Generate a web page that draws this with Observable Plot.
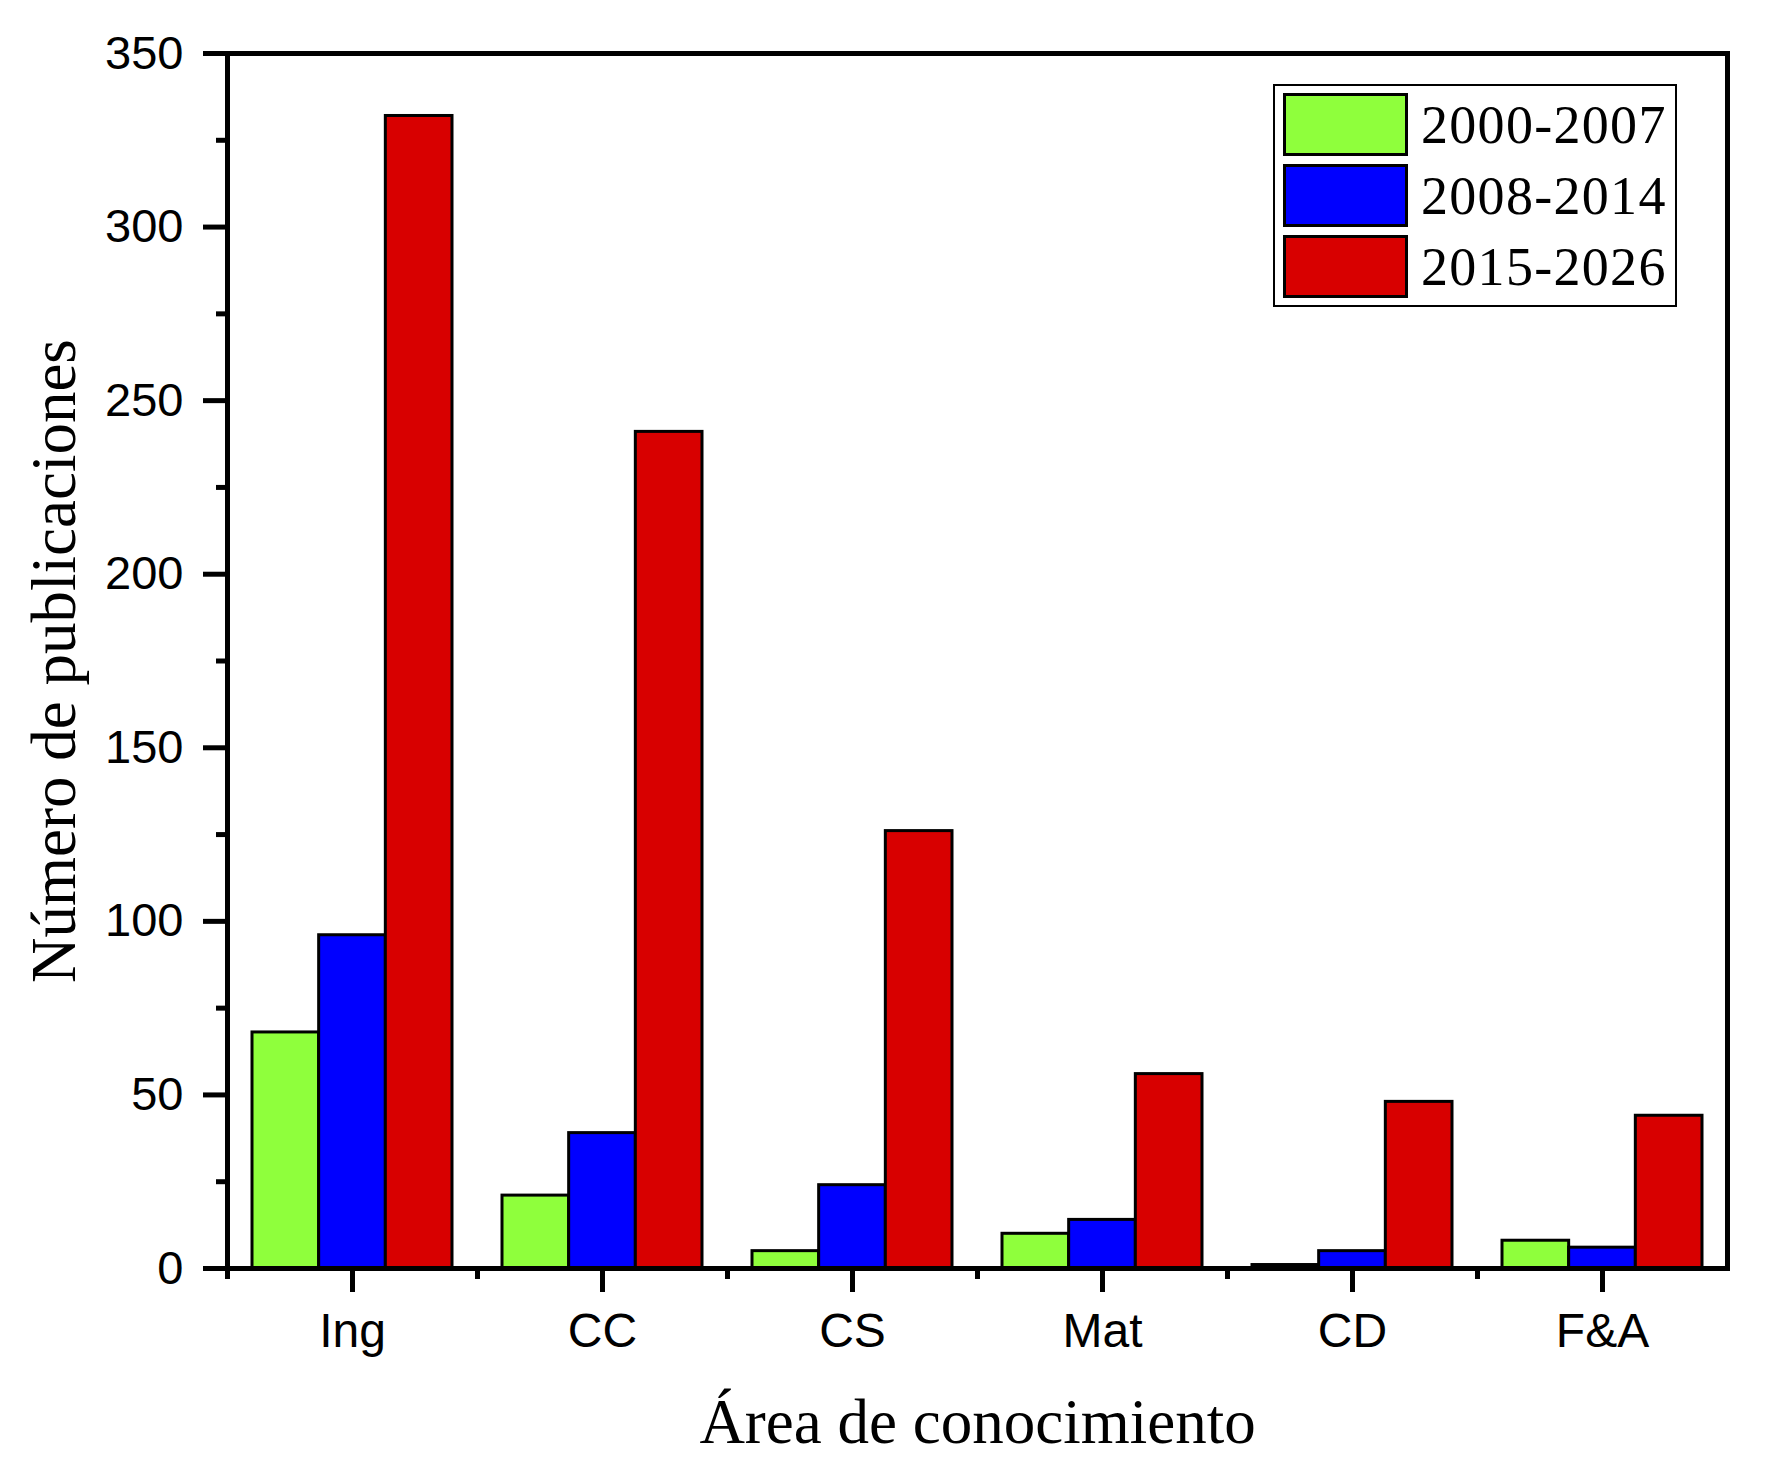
<!DOCTYPE html>
<html>
<head>
<meta charset="utf-8">
<script src="https://cdn.jsdelivr.net/npm/d3@7"></script>
<script src="https://cdn.jsdelivr.net/npm/@observablehq/plot@0.6"></script>
<style>
  html, body { margin: 0; padding: 0; background: #fff; }
  #wrap { position: relative; width: 1767px; height: 1475px; }
  #legend {
    position: absolute; left: 1273px; top: 84px; width: 400px; height: 219px;
    border: 2.5px solid #000; background: #fff; box-sizing: content-box;
    font-family: "Liberation Serif", "Times New Roman", serif; font-size: 54px; color: #000;
  }
  .item { position: absolute; left: 8px; height: 63px; width: 390px; }
  .sw { position: absolute; left: 0; top: 0; width: 119px; height: 57px; border: 3px solid #000; }
  .lab { position: absolute; left: 138px; top: 50%; transform: translateY(-50%); line-height: 1; white-space: nowrap; letter-spacing: 1.3px; }
</style>
</head>
<body>
<div id="wrap"></div>
<script>
// ---- data ----
const categories = ["Ing", "CC", "CS", "Mat", "CD", "F&A"];
const seriesNames = ["2000-2007", "2008-2014", "2015-2026"];
const values2000_2007 = [68, 21, 5, 10, 1, 8];
const values2008_2014 = [96, 39, 24, 14, 5, 6];
const values2015_2026 = [332, 241, 126, 56, 48, 44];
const seriesColors = ["#8FFF3C", "#0000FF", "#D80000"];
const yMajorTicks = [0, 50, 100, 150, 200, 250, 300, 350];
const yMinorTicks = [25, 75, 125, 175, 225, 275, 325];
const xTitle = "Área de conocimiento";
const yTitle = "Número de publicaciones";

const seriesValues = [values2000_2007, values2008_2014, values2015_2026];
const data = [];
seriesNames.forEach((s, si) => categories.forEach((c, ci) => data.push({category: c, series: s, value: seriesValues[si][ci]})));

// ---- layout ----
const W = 1767, H = 1475;
const mL = 227, mR = 40, mT = 53, mB = 207;
const plotW = W - mL - mR;
const step = plotW / categories.length;
const groupPad = step * 0.1;
const barW = (step - 2 * groupPad) / seriesNames.length;

const sans = "Liberation Sans, Arial, sans-serif";
const serif = "Liberation Serif, Times New Roman, serif";

const barMarks = seriesNames.map((s, i) => Plot.barY(data.filter(d => d.series === s), {
  x: "category", y: "value", fill: seriesColors[i], stroke: "#000", strokeWidth: 3,
  insetLeft: groupPad + i * barW, insetRight: step - groupPad - (i + 1) * barW
}));

const chart = Plot.plot({
  width: W, height: H,
  marginLeft: mL, marginRight: mR, marginTop: mT, marginBottom: mB,
  style: {background: "#fff", overflow: "visible"},
  x: {domain: categories, padding: 0, label: null},
  y: {domain: [0, 350], label: null},
  marks: [
    ...barMarks,
    Plot.axisY({ticks: yMajorTicks, tickSize: 24, tickPadding: 20, strokeWidth: 5, fontSize: 47, fontFamily: sans, fill: "#000", label: null}),
    Plot.axisY({ticks: yMinorTicks, tickSize: 11, strokeWidth: 5, tickFormat: () => "", label: null}),
    Plot.axisX({tickSize: 24, tickPadding: 20, strokeWidth: 5, fontSize: 48, fontFamily: sans, fill: "#000", label: null}),
    Plot.axisX({tickSize: 11, strokeWidth: 5, dx: -step / 2, tickFormat: () => "", label: null}),
    Plot.frame({stroke: "#000", strokeWidth: 5}),
    Plot.text([xTitle], {frameAnchor: "bottom", dy: 174, lineAnchor: "bottom", textAnchor: "middle", fontSize: 63, fontFamily: serif, fill: "#000"}),
    Plot.text([yTitle], {frameAnchor: "left", dx: -153, rotate: -90, lineAnchor: "bottom", textAnchor: "middle", fontSize: 63, fontFamily: serif, fill: "#000"})
  ]
});

const wrap = document.getElementById("wrap");
wrap.appendChild(chart);

// legend overlay
const legend = document.createElement("div");
legend.id = "legend";
seriesNames.forEach((s, i) => {
  const item = document.createElement("div");
  item.className = "item";
  item.style.top = (7 + i * 71) + "px";
  const sw = document.createElement("div");
  sw.className = "sw";
  sw.style.background = seriesColors[i];
  const lab = document.createElement("div");
  lab.className = "lab";
  lab.textContent = s;
  item.appendChild(sw); item.appendChild(lab);
  legend.appendChild(item);
});
wrap.appendChild(legend);
</script>
</body>
</html>
